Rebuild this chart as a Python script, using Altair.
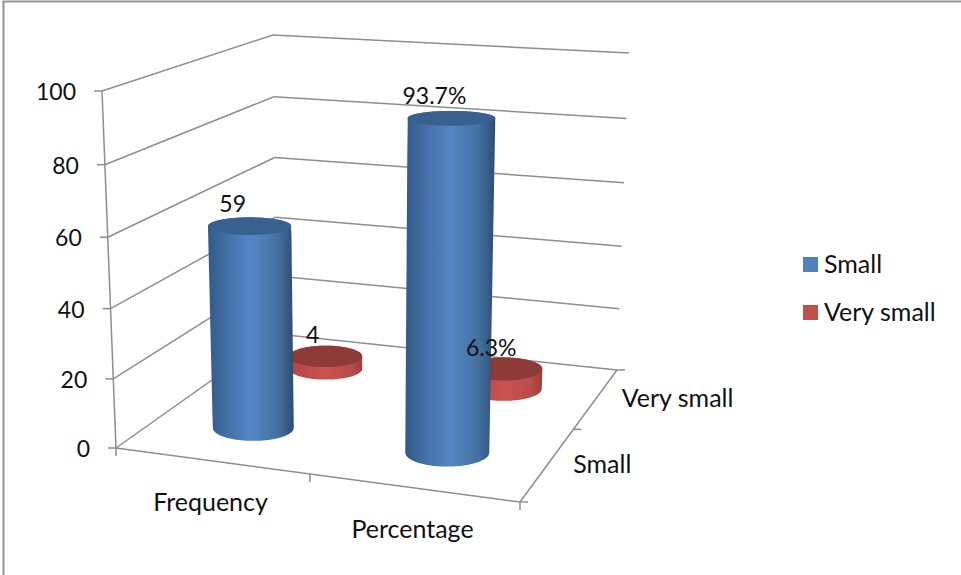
import altair as alt
import numpy as np
import pandas as pd

# Chart values
CATEGORIES = ["Frequency", "Percentage"]
SERIES = ["Small", "Very small"]
SMALL = [59, 93.7]
VERY_SMALL = [4, 6.3]
SMALL_LABELS = ["59", "93.7%"]
VERY_SMALL_LABELS = ["4", "6.3%"]
VALUE_TICKS = [0, 20, 40, 60, 80, 100]

W, H = 961, 575
LINE_GREY = "#8e8e8e"
FONT = "Lato"
WORD_SIZE = 25
DIGIT_SIZE = 23

# Corners of the 3D box on screen: floor (value 0) and ceiling (value 100),
# each as front-left, front-right, back-right, back-left.
FLOOR = np.array([[116, 448], [520, 502], [617, 370], [277, 334]], float)
CEILING = np.array([[102, 91], [529, 124], [629, 53], [273, 35]], float)
BASE_LIFT = 4  # cylinders stand slightly above the floor plane
LABEL_SHIFT = {0: (-17, -21.5), 1: (-13, -20.5)}  # value label offset per series


def rise(v):
    """Fraction of the box height at value v; spacing widens towards the viewer."""
    f = v / 100
    return 0.96 * f + 0.04 * f * f


def bilinear(c, u, d):
    front = c[0] + (c[1] - c[0]) * u
    back = c[3] + (c[2] - c[3]) * u
    return front + (back - front) * d


def project(u, d, v):
    low, high = bilinear(FLOOR, u, d), bilinear(CEILING, u, d)
    return low + (high - low) * rise(v)


def radii(u, d, v):
    rx = 40.5 + 3 * (u - 0.25) - 8 * (d - 0.25) + 0.02 * v
    ry = 13 + 2 * (u - 0.25) - 4 * (d - 0.25) - 0.07 * v
    return rx, ry


def convex_to_area(pts):
    """Turn a convex outline into x / y / y2 rows for an area mark."""
    pts = np.asarray(pts)
    closed = np.vstack([pts, pts[:1]])
    rows = []
    xmax = pts[:, 0].max()
    for x in list(np.arange(pts[:, 0].min(), xmax, 0.5)) + [xmax]:
        ys = []
        for (x0, y0), (x1, y1) in zip(closed[:-1], closed[1:]):
            if min(x0, x1) <= x <= max(x0, x1) and x0 != x1:
                ys.append(y0 + (y1 - y0) * (x - x0) / (x1 - x0))
        if ys:
            rows.append({"x": float(x), "y": float(min(ys)), "y2": float(max(ys))})
    return rows


def cylinder(cat, ser, value):
    u, d = (cat + 0.5) / 2, (ser + 0.5) / 2
    base = project(u, d, 0) - [0, BASE_LIFT]
    top = base + (project(u, d, value) - project(u, d, 0))
    brx, bry = radii(u, d, 0)
    trx, try_ = radii(u, d, value)
    a = np.linspace(0, 2 * np.pi, 121)
    lid = np.c_[top[0] + trx * np.cos(a[:-1]), top[1] + try_ * np.sin(a[:-1])]
    s = np.linspace(0, np.pi, 61)
    lower = np.c_[base[0] + brx * np.cos(s), base[1] + bry * np.sin(s)]
    upper = np.c_[top[0] - trx * np.cos(s), top[1] - try_ * np.sin(s)]
    return convex_to_area(np.vstack([lower, upper])), convex_to_area(lid), top


cylinders = {0: [], 1: []}
value_labels = []
for ser, (values, labels) in enumerate([(SMALL, SMALL_LABELS), (VERY_SMALL, VERY_SMALL_LABELS)]):
    for cat, (val, lab) in enumerate(zip(values, labels)):
        body, lid, top = cylinder(cat, ser, val)
        cylinders[ser].append((body, lid))
        dx, dy = LABEL_SHIFT[ser]
        value_labels.append({"x": float(top[0] + dx), "y": float(top[1] + dy), "label": lab})

# Box outline, gridlines and tick marks
segments = []


def seg(a, b):
    key = len(segments)
    segments.append({"x": a[0], "y": a[1], "key": key, "n": 0})
    segments.append({"x": b[0], "y": b[1], "key": key, "n": 1})


for v in VALUE_TICKS:
    front, corner, end = project(0, 0, v), project(0, 1, v), project(1, 1, v)
    seg(front, corner)
    seg(corner, end)
    seg(front - [8, 0], front)
seg(project(0, 0, 0), project(0, 0, 100))
seg(FLOOR[0], FLOOR[1])
seg(FLOOR[1], FLOOR[2])
for u in [0, 0.48, 1]:
    p = bilinear(FLOOR, u, 0)
    seg(p, p + [0, 8])
for d in [0, 0.55, 1]:
    p = bilinear(FLOOR, 1, d)
    seg(p, p + [8, 0])

axis_labels = [
    {"x": project(0, 0, v)[0] - 26, "y": project(0, 0, v)[1] + 2, "label": str(v)}
    for v in VALUE_TICKS
]
category_labels = [
    {"x": bilinear(FLOOR, (i + 0.5) / 2, 0)[0] - 6.5, "y": bilinear(FLOOR, (i + 0.5) / 2, 0)[1] + 41, "label": c}
    for i, c in enumerate(CATEGORIES)
]
series_labels = [
    {"x": bilinear(FLOOR, 1, (i + 0.5) / 2)[0] + 29, "y": bilinear(FLOOR, 1, (i + 0.5) / 2)[1] - 4.5, "label": s}
    for i, s in enumerate(SERIES)
]

X = alt.X("x:Q", scale=alt.Scale(domain=[0, W]), axis=None)
Y = alt.Y("y:Q", scale=alt.Scale(domain=[H, 0]), axis=None, stack=None)


def gradient(stops):
    return alt.LinearGradient(
        gradient="linear", x1=0, y1=0, x2=1, y2=0,
        stops=[alt.GradientStop(offset=o, color=c) for o, c in stops],
    )


BLUE_BODY = gradient([(0, "#325a8a"), (0.12, "#3c6699"), (0.5, "#5487c6"), (0.82, "#44709f"), (1, "#2c4c74")])
RED_BODY = gradient([(0, "#a94543"), (0.2, "#bb4c4a"), (0.5, "#c9524f"), (0.85, "#bb4c49"), (1, "#9a3e3b")])


def area(rows, fill):
    return alt.Chart(pd.DataFrame(rows)).mark_area(fill=fill, interpolate="linear").encode(
        x=X, y=Y, y2=alt.Y2("y2")
    )


def text(rows, align="center", size=WORD_SIZE):
    return alt.Chart(pd.DataFrame(rows)).mark_text(
        font=FONT, fontSize=size, color="#111111", align=align, baseline="middle"
    ).encode(x=X, y=Y, text="label:N")


frame = alt.Chart(pd.DataFrame({"x": [3.5, 3.5, W], "y": [H, 1.5, 1.5], "n": [0, 1, 2]})).mark_line(
    color="#939393", strokeWidth=2
).encode(x=X, y=Y, order="n:Q")

grid = alt.Chart(pd.DataFrame(segments)).mark_line(color=LINE_GREY, strokeWidth=1.5).encode(
    x=X, y=Y, detail="key:N", order="n:Q"
)

# Invisible points carry the series legend
swatches = alt.Chart(pd.DataFrame({"series": SERIES, "x": [0, 0], "y": [0, 0]})).mark_point(
    filled=True, opacity=0
).encode(
    x=X, y=Y,
    color=alt.Color(
        "series:N",
        scale=alt.Scale(domain=SERIES, range=["#4f81bd", "#c0504d"]),
        legend=alt.Legend(
            title=None, orient="none", legendX=798, legendY=252, padding=0,
            symbolType="square", symbolSize=225, symbolOpacity=1, symbolStrokeWidth=0,
            labelFont=FONT, labelFontSize=WORD_SIZE, labelColor="#111111",
            labelOffset=1, rowPadding=22, labelLimit=200,
        ),
    ),
)

# Cylinders go back to front so the blue ones hide the red ones behind them
solids = []
for ser, body_fill, lid_fill in [(1, RED_BODY, "#8e3a38"), (0, BLUE_BODY, "#38618f")]:
    for body, lid in cylinders[ser]:
        solids += [area(body, body_fill), area(lid, lid_fill)]

chart = alt.layer(
    frame, grid, *solids,
    text(axis_labels, "right", DIGIT_SIZE), text(category_labels), text(series_labels, "left"),
    text(value_labels, "center", DIGIT_SIZE), swatches,
).properties(width=W, height=H, padding=0, autosize=alt.AutoSizeParams(type="none")).configure_view(stroke=None)

chart.save("out.html", embed_options={"renderer": "svg", "actions": False})
